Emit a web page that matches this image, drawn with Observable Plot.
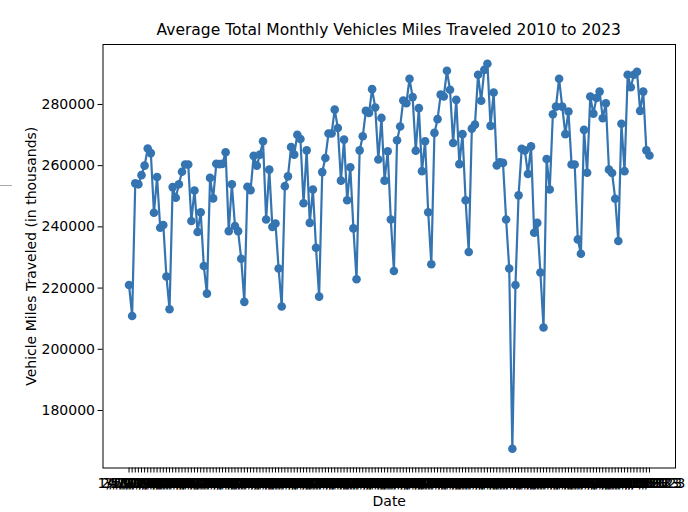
<!DOCTYPE html>
<html>
<head>
<meta charset="utf-8">
<script src="https://cdn.jsdelivr.net/npm/d3@7"></script>
<script src="https://cdn.jsdelivr.net/npm/@observablehq/plot@0.6"></script>
<style>
  body { margin: 0; background: #fff; font-family: "DejaVu Sans", sans-serif; }
  #wrap { position: relative; width: 688px; height: 512px; overflow: hidden; }
  #title { box-sizing: border-box; height: 40px; padding: 21px 13px 0 102.5px; text-align: center; font-size: 15.5px; line-height: 18px; color: #000; white-space: nowrap; }
  #nick { position: absolute; left: 0; top: 185px; width: 12px; height: 1px; background: #aaa; }
</style>
</head>
<body>
<div id="wrap">
  <div id="title">Average Total Monthly Vehicles Miles Traveled 2010 to 2023</div>
  <div id="chart"></div>
  <div id="nick"></div>
</div>
<script>
// monthly categories, Jan 2010 .. Dec 2023
const years = [2010, 2011, 2012, 2013, 2014, 2015, 2016, 2017, 2018, 2019, 2020, 2021, 2022, 2023]
const months = [1, 2, 3, 4, 5, 6, 7, 8, 9, 10, 11, 12]
const yTicks = [180000, 200000, 220000, 240000, 260000, 280000]

// vehicle miles traveled (thousands), one row per year
const vmt = [
  221000, 210900, 254200, 253900, 256900, 260000, 265600, 264100, 244600, 256300, 239700, 240600,
  223800, 213100, 253000, 249500, 253900, 258000, 260400, 260400, 241900, 251900, 238300, 244800,
  227200, 218200, 256000, 249300, 260600, 260500, 260600, 264400, 238600, 253900, 240300, 238600,
  229600, 215500, 253100, 252000, 263200, 260000, 263600, 268000, 242400, 258700, 240000, 241100,
  226400, 214000, 253300, 256500, 266100, 263600, 270100, 268700, 247700, 265000, 241300, 252200,
  233200, 217200, 257900, 262500, 270500, 270500, 278300, 272300, 255100, 268500, 248700, 259500,
  239500, 222900, 265000, 269600, 277900, 277200, 285000, 279000, 262000, 275600, 255100, 264700,
  242400, 225600, 268300, 272800, 281300, 280400, 288400, 282400, 264900, 278800, 258200, 268000,
  244800, 227800, 270700, 275200, 283200, 282600, 291000, 284800, 267400, 281500, 260500, 270300,
  248700, 231800, 272100, 273400, 289700, 281200, 291300, 293300, 273000, 283900, 260100, 261100,
  260900, 242400, 226400, 167500, 221000, 250300, 265500, 265000, 257300, 266300, 238100, 241300,
  225100, 207100, 262200, 252200, 276800, 279300, 288400, 279300, 270300, 277700, 260400, 260400,
  235900, 231200, 271700, 257700, 282600, 277000, 282100, 284200, 275500, 280400, 258700, 257600,
  249200, 235400, 273700, 258200, 289700, 285600, 289700, 290700, 277900, 284200, 265000, 263300
]

const dates = years.flatMap(y => months.map(m => `${m}/1/${y}`))
const rows = dates.map((date, i) => ({date, value: vmt[i]}))

// matplotlib-style 5% margins
const lo = d3.min(vmt), hi = d3.max(vmt), pad = (hi - lo) * 0.05
const blue = "#3474b1"

const chart = Plot.plot({
  width: 688,
  height: 472,
  marginTop: 4,
  marginBottom: 44.5,
  marginLeft: 102.5,
  marginRight: 13,
  style: {fontFamily: "DejaVu Sans", fontSize: "14px", color: "#000", background: "#fff", overflow: "visible"},
  x: {type: "point", domain: dates, padding: 0.05 * (dates.length - 1), round: false},
  y: {domain: [lo - pad, hi + pad]},
  marks: [
    Plot.frame({stroke: "#000", strokeWidth: 1}),
    Plot.axisY({
      ticks: yTicks, tickFormat: d3.format("d"), tickSize: 5, tickPadding: 3,
      label: "Vehicle Miles Traveled (in thousands)", labelAnchor: "center", labelArrow: "none", labelOffset: 77
    }),
    Plot.axisX({
      ticks: dates, tickSize: 5, tickPadding: 5,
      label: "Date", labelAnchor: "center", labelArrow: "none", labelOffset: 38
    }),
    Plot.line(rows, {x: "date", y: "value", stroke: blue, strokeWidth: 2.2}),
    Plot.dot(rows, {x: "date", y: "value", r: 4.3, fill: blue})
  ]
})
d3.select("#chart").append(() => chart)
</script>
</body>
</html>
